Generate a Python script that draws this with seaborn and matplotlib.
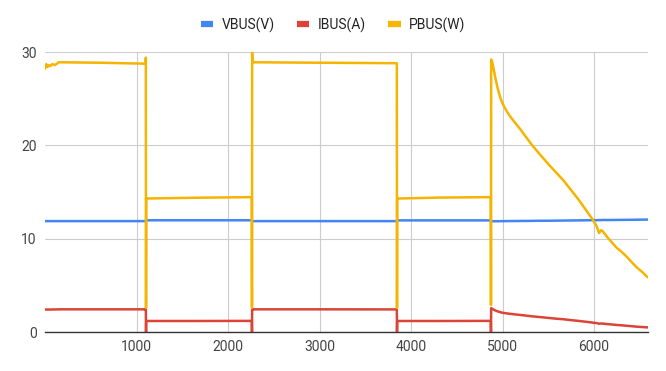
import matplotlib
matplotlib.use("Agg")
import matplotlib.pyplot as plt
import seaborn as sns
import pandas as pd
from matplotlib.lines import Line2D

# ---- data ----
sample = [0, 15, 30, 45, 60, 80, 110, 150, 600, 1100, 1102, 1104, 1106, 1600, 2260,
          2262, 2264, 2266, 3000, 3845, 3847, 3849, 4300, 4872, 4874, 4876, 4885,
          4895, 4907, 4920, 4936, 4950, 4970, 4991, 5020, 5050, 5080, 5115, 5160,
          5200, 5260, 5333, 5420, 5500, 5580, 5661, 5750, 5830, 5910, 5989, 6030,
          6055, 6075, 6095, 6150, 6200, 6250, 6300, 6357, 6410, 6470, 6530, 6576, 6590]

vbus = [11.88, 11.88, 11.88, 11.88, 11.88, 11.88, 11.88, 11.88, 11.88, 11.88, 11.88, 11.9, 11.97, 11.97, 11.97,
        11.95, 11.9, 11.88, 11.88, 11.88, 11.9, 11.96, 11.96, 11.96, 11.9, 11.86, 11.86,
        11.86, 11.87, 11.87, 11.87, 11.87, 11.87, 11.88, 11.88, 11.88, 11.89, 11.89, 11.89,
        11.9, 11.9, 11.91, 11.92, 11.92, 11.93, 11.94, 11.95, 11.96, 11.97, 11.98, 11.98,
        11.99, 11.99, 12.0, 12.0, 12.0, 12.01, 12.01, 12.02, 12.02, 12.03, 12.04, 12.04, 12.05]

ibus = [2.40, 2.42, 2.40, 2.41, 2.40, 2.42, 2.41, 2.43, 2.43, 2.43, 2.46, 0.0, 1.18, 1.18, 1.19,
        0.0, 2.46, 2.43, 2.43, 2.42, 0.0, 1.18, 1.18, 1.19, 0.0, 2.55, 2.50,
        2.45, 2.38, 2.31, 2.25, 2.20, 2.14, 2.08, 2.03, 1.99, 1.95, 1.91, 1.86,
        1.82, 1.75, 1.67, 1.59, 1.51, 1.43, 1.37, 1.27, 1.19, 1.10, 1.00, 0.95,
        0.89, 0.91, 0.90, 0.84, 0.80, 0.75, 0.72, 0.67, 0.62, 0.57, 0.53, 0.50, 0.49]

pbus = [28.2, 28.7, 28.4, 28.6, 28.5, 28.7, 28.6, 28.9, 28.85, 28.75, 29.4, 2.6, 14.3, 14.38, 14.45,
        2.6, 29.9, 28.9, 28.85, 28.8, 2.6, 14.3, 14.4, 14.45, 2.9, 29.2, 29.0,
        28.6, 28.0, 27.3, 26.6, 26.0, 25.3, 24.7, 24.1, 23.6, 23.15, 22.7, 22.15,
        21.65, 20.85, 19.9, 18.9, 18.0, 17.15, 16.3, 15.2, 14.2, 13.1, 12.0, 11.3,
        10.6, 10.9, 10.8, 10.1, 9.55, 9.0, 8.6, 8.07, 7.5, 6.9, 6.4, 5.95, 5.85]

series_names = ["VBUS(V)", "IBUS(A)", "PBUS(W)"]
colors = ["#4285F4", "#DB4437", "#F4B400"]
x_ticks = [1000, 2000, 3000, 4000, 5000, 6000]
y_ticks = [0, 10, 20, 30]

df = pd.concat([
    pd.DataFrame({"x": sample, "value": vbus, "series": series_names[0]}),
    pd.DataFrame({"x": sample, "value": ibus, "series": series_names[1]}),
    pd.DataFrame({"x": sample, "value": pbus, "series": series_names[2]}),
], ignore_index=True)

sns.set_theme(style="white")
plt.rcParams["font.family"] = ["Roboto", "DejaVu Sans"]

fig = plt.figure(figsize=(6.66, 3.71), dpi=100)
ax = fig.add_axes([45 / 666, 1 - 332 / 371, (648 - 45) / 666, (332 - 52) / 371])

sns.lineplot(data=df, x="x", y="value", hue="series", hue_order=series_names,
             palette=colors, linewidth=1.8, ax=ax, legend=False,
             estimator=None, sort=False)
for ln in ax.get_lines():
    ln.set_solid_joinstyle("round")

ax.set_xlim(0, 6590)
ax.set_ylim(0, 30)
ax.set_xticks(x_ticks)
ax.set_yticks(y_ticks)
ax.set_xticklabels([str(t) for t in x_ticks])
ax.set_yticklabels([str(t) for t in y_ticks])
ax.set_xlabel("")
ax.set_ylabel("")
ax.grid(True, color="#cccccc", linewidth=0.8)
ax.set_axisbelow(True)
for s in ["top", "right", "left"]:
    ax.spines[s].set_visible(False)
ax.spines["bottom"].set_color("#333333")
ax.spines["bottom"].set_linewidth(1.0)
ax.tick_params(axis="both", length=0, labelsize=10, labelcolor="#444444", pad=6)

handles = [Line2D([0], [0], color=c, lw=4.5, solid_capstyle="butt") for c in colors]
fig.legend(handles, series_names, loc="center", bbox_to_anchor=(333 / 666, 1 - 25 / 371),
           ncol=3, frameon=False, fontsize=10, handlelength=0.9, handletextpad=0.6,
           columnspacing=1.6, labelcolor="#222222")

fig.savefig("out.png", dpi=100)
